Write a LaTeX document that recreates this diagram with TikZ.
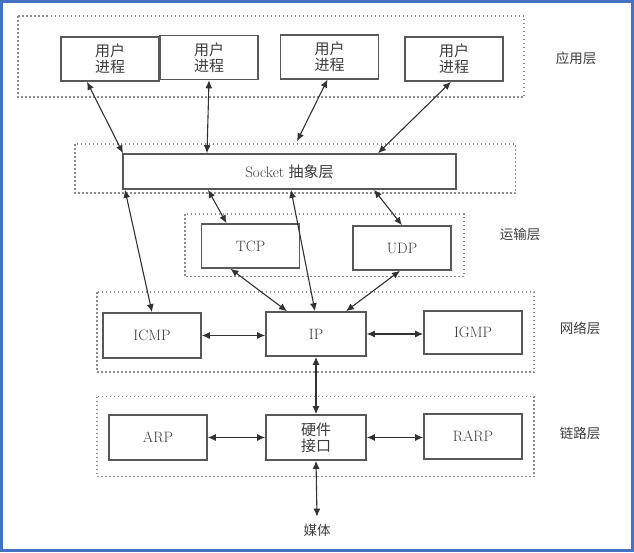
\documentclass[tikz,border=0pt]{standalone}
\usepackage{fontspec}
\usepackage{xcolor}
\usepackage{tikz}
\usetikzlibrary{arrows.meta,positioning,calc}
\newfontfamily\cjk{Noto Sans CJK SC}
\definecolor{ink}{RGB}{60,60,60}
\definecolor{wire}{RGB}{50,50,50}
\definecolor{boxline}{RGB}{88,88,88}
\definecolor{dotline}{RGB}{140,140,140}
\definecolor{frameblue}{RGB}{68,114,196}
\tikzset{
  proc/.style={draw=boxline,line width=1.6pt,fill=white,minimum width=98pt,
    minimum height=44pt,align=center,text=ink,font=\fontsize{15pt}{16pt}\selectfont,
    inner sep=1pt},
  layer/.style={draw=dotline,line width=1.5pt,dash pattern=on 1.5pt off 2.5pt},
  link/.style={line width=1.1pt,wire,{Latex[length=8pt,width=7pt]}-{Latex[length=8pt,width=7pt]}},
  tag/.style={text=ink,font=\cjk\fontsize{13.5pt}{15pt}\selectfont},
  frame/.style={draw=frameblue,line width=3pt}
}
\begin{document}
\begin{tikzpicture}[x=1pt,y=-1pt]
  \useasboundingbox (0,0) rectangle (634,552);
  \draw[frame] (1.5,1.5) rectangle (632.5,550.5);
  \draw[layer] (18,16) rectangle (524,97);
  \draw[layer] (75,144) rectangle (515.5,193);
  \draw[layer] (185,214) rectangle (464,276.7);
  \draw[layer] (97,292) rectangle (534,372);
  \draw[layer] (97,396.7) rectangle (534,476.7);
  \node[proc] (u1) at (110,59) {\cjk 用户\\\cjk 进程};
  \node[proc] (u2) at (209,57.5) {\cjk 用户\\\cjk 进程};
  \node[proc] (u3) at (329.5,56.7) {\cjk 用户\\\cjk 进程};
  \node[proc] (u4) at (454,59) {\cjk 用户\\\cjk 进程};
  \node[proc,minimum width=333pt,minimum height=35pt] (sock) at (289.5,171.5)
    {Socket {\cjk 抽象层}};
  \node[proc] (tcp) at (250.5,246) {TCP};
  \node[proc] (udp) at (402,248) {UDP};
  \node[proc,minimum height=45pt] (icmp) at (152,335.5) {ICMP};
  \node[proc,minimum width=100pt] (ip) at (316,334) {IP};
  \node[proc,minimum height=43.5pt] (igmp) at (473,332.5) {IGMP};
  \node[proc,minimum height=45pt] (arp) at (158,437.5) {ARP};
  \node[proc,minimum width=100pt,minimum height=45pt] (hw) at (316,437.5)
    {\cjk 硬件\\\cjk 接口};
  \node[proc,minimum height=45pt] (rarp) at (473,436.5) {RARP};
  \node[tag,inner sep=7pt] (media) at (317,530) {媒体};
  \node[tag] (lapp) at (576,58) {应用层};
  \node[tag] (ltrans) at (520,234) {运输层};
  \node[tag] (lnet) at (580,328) {网络层};
  \node[tag] (llink) at (580,433) {链路层};
  \coordinate (sockgap) at ($(sock.north)+(7.5,-12)$);
  \draw[link] ([xshift=-23pt]u1.south) -- ([xshift=-166.5pt]sock.north);
  \draw[link] (u2.south) -- ([xshift=-82.5pt]sock.north);
  \draw[link] ([xshift=-2pt]u3.south) -- (sockgap);
  \draw[link] ([xshift=-3pt]u4.south) -- ([xshift=88.5pt]sock.north);
  \draw[link] ([xshift=-164.5pt]sock.south) -- (icmp.north);
  \draw[link] ([xshift=-81.5pt]sock.south) -- ([xshift=-24pt]tcp.north);
  \draw[link] ([xshift=1.5pt]sock.south) -- ([xshift=-1pt]ip.north);
  \draw[link] ([xshift=84.5pt]sock.south) -- (udp.north);
  \draw[link] ([xshift=-20pt]tcp.south) -- ([xshift=-29pt]ip.north);
  \draw[link] ([xshift=-2pt]udp.south) -- ([xshift=30pt]ip.north);
  \draw[link] (icmp.east) -- (icmp.east -| ip.west);
  \draw[link] (ip.east) -- (ip.east -| igmp.west);
  \draw[link] (ip.south) -- (hw.north);
  \draw[link] (arp.east) -- (arp.east -| hw.west);
  \draw[link] (hw.east) -- (hw.east -| rarp.west);
  \draw[link] (hw.south) -- (media.north);
\end{tikzpicture}
\end{document}
